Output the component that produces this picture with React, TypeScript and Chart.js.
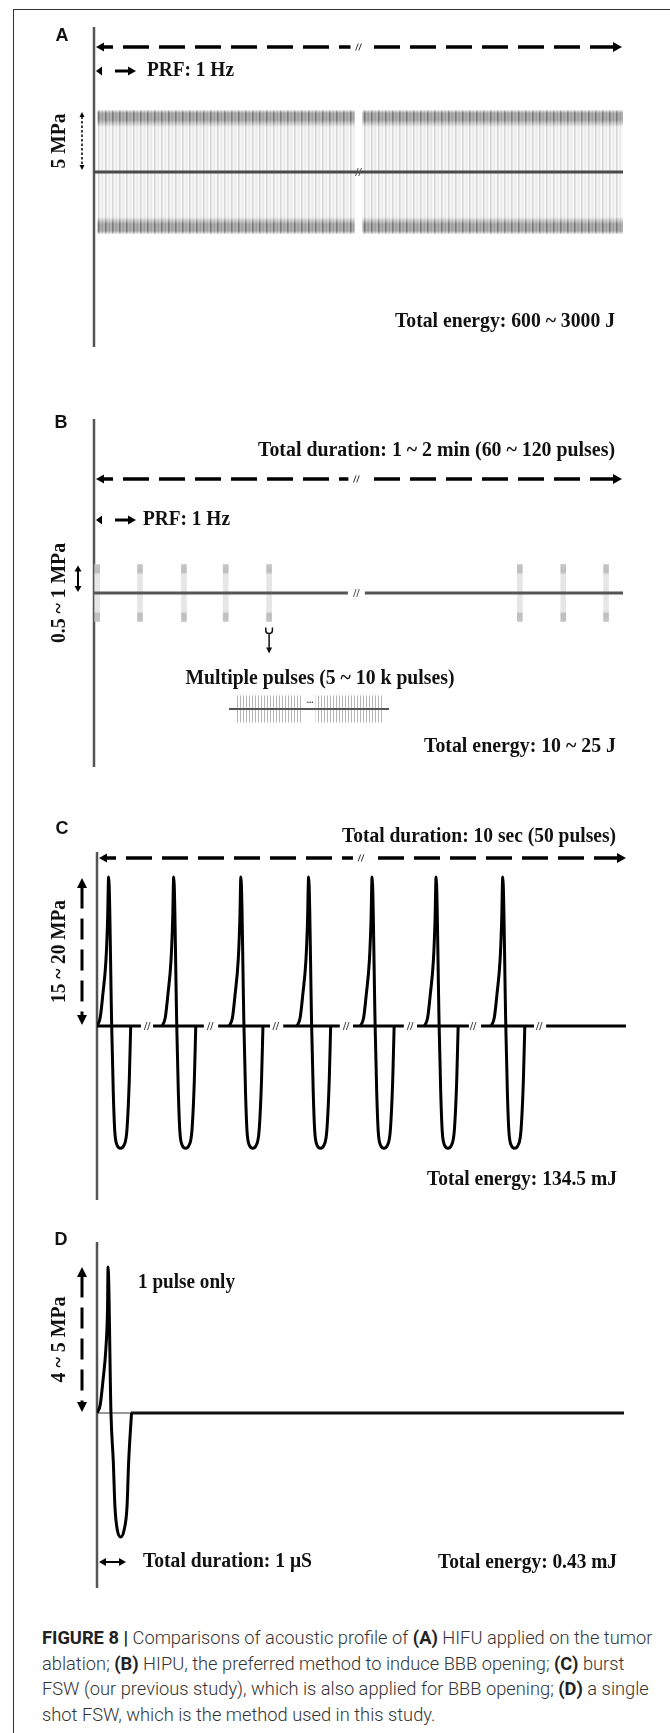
import React, { useEffect, useRef } from "react";
import { Chart, registerables } from "chart.js";

Chart.register(...registerables);

/* ============================ DATA ============================ */
// Time runs 0 … 100 schematic units along each panel, pressure in MPa.

// (A) HIFU – continuous 5 MPa wave, shown in two spans either side of the time break
const A_WAVE_SPANS = [[0.6, 49.3], [50.7, 100]];
const A_WAVE_AMPLITUDE = 5;
const A_BASELINE_SPANS = [[0, 100]];
const A_TIME_BREAKS = [50];

// (B) HIPU – bursts at 1 Hz, 0.5 ~ 1 MPa
const B_PULSE_TIMES = [0.6, 8.7, 17.0, 24.9, 33.1, 80.5, 88.7, 96.8];
const B_PULSE_AMPLITUDE = 1;
const B_BASELINE_SPANS = [[0, 48], [51.2, 100]];
const B_TIME_BREAKS = [49.6];
const B_MARKED_PULSE = 4;
// inset: one burst = multiple pulses
const B_INSET_SPANS = [[0.04, 0.46], [0.54, 0.96]];
const B_INSET_BASELINE = [[0, 1]];
const B_INSET_AMPLITUDE = 1;

// (C) burst FSW – 7 drawn pulses, peak 20 MPa
const C_PULSE_STARTS = [0, 12.3, 25.0, 37.8, 49.8, 61.9, 74.5];
const C_SHAPE_T = [0, 0.6, 1.1, 1.7, 2.0, 2.2, 2.78, 3.08, 3.35, 3.8, 4.44, 5.1, 5.65, 6.1, 6.37];
const C_SHAPE_P = [0, 1.1, 4.2, 8.9, 14.2, 20, 0, -9.0, -14.0, -16.0, -16.4, -16.0, -14.0, -7.3, 0];
const C_BASELINE_SPANS = [[0, 8.3], [10.6, 20.2], [22.9, 32.7], [35.2, 45.9], [48.4, 58.0], [60.5, 70.3], [72.6, 82.6], [84.9, 100]];
const C_BASELINE_BREAKS = [9.5, 21.4, 33.8, 47.1, 59.2, 71.1, 83.6];
const C_TIME_BREAKS = [49.9];
const C_PEAK = 20;

// (D) single-shot FSW, peak 5 MPa
const D_SHAPE_T = [0, 0.6, 1.1, 1.7, 2.0, 2.1, 2.65, 3.1, 3.4, 3.85, 4.5, 5.15, 5.7, 6.0, 6.55];
const D_SHAPE_P = [0, 0.27, 1.05, 2.25, 3.6, 5.0, 0, -1.7, -3.2, -4.0, -4.25, -4.0, -3.2, -1.7, 0];
const D_PULSE_STARTS = [0];
const D_BASELINE_UNDER = [[0, 6.6]];
const D_BASELINE_SPANS = [[6.4, 100]];
const D_PEAK = 5;

// Texts
const PANEL_LETTERS = ["A", "B", "C", "D"];
const TXT_PRF = "PRF: 1 Hz";
const A_AMP_LABEL = "5 MPa";
const A_ENERGY = "Total energy: 600 ~ 3000 J";
const B_DURATION = "Total duration: 1 ~ 2 min (60 ~ 120 pulses)";
const B_AMP_LABEL = "0.5 ~ 1 MPa";
const B_INSET_TITLE = "Multiple pulses (5 ~ 10 k pulses)";
const B_ENERGY = "Total energy: 10 ~ 25 J";
const C_DURATION = "Total duration: 10 sec (50 pulses)";
const C_AMP_LABEL = "15 ~ 20 MPa";
const C_ENERGY = "Total energy: 134.5 mJ";
const D_NOTE = "1 pulse only";
const D_AMP_LABEL = "4 ~ 5 MPa";
const D_DURATION = "Total duration: 1 μS";
const D_ENERGY = "Total energy: 0.43 mJ";

const CAPTION_LINES: [string, boolean][][] = [
  [["FIGURE 8 |", true], [" Comparisons of acoustic profile of ", false], ["(A)", true], [" HIFU applied on the tumor", false]],
  [["ablation; ", false], ["(B)", true], [" HIPU, the preferred method to induce BBB opening; ", false], ["(C)", true], [" burst", false]],
  [["FSW (our previous study), which is also applied for BBB opening; ", false], ["(D)", true], [" a single", false]],
  [["shot FSW, which is the method used in this study.", false]],
];

/* ============================ LAYOUT (page pixels) ============================ */
const SERIF = "'Liberation Serif', 'Times New Roman', serif";
const SANS = "'Liberation Sans', Arial, sans-serif";
const F_TXT = `bold 20px ${SERIF}`;
const F_LET = `bold 18px ${SANS}`;

const BOX: any = {
  A: { left: 0, top: 0, width: 670, height: 392 },
  B: { left: 0, top: 392, width: 670, height: 413 },
  Bi: { left: 222, top: 688, width: 175, height: 42 },
  C: { left: 0, top: 805, width: 670, height: 410 },
  D: { left: 0, top: 1215, width: 670, height: 400 },
};
const AREA: any = {
  A: { left: 94, right: 623, top: 27, bottom: 347, baseline: 172, unitPx: 12.4, xMin: 0, xMax: 100 },
  B: { left: 94, right: 623, top: 419, bottom: 767, baseline: 593, unitPx: 28.5, xMin: 0, xMax: 100 },
  Bi: { left: 229, right: 389, top: 694, bottom: 724, baseline: 709, unitPx: 13.6, xMin: 0, xMax: 1 },
  C: { left: 97, right: 626, top: 852, bottom: 1200, baseline: 1026, unitPx: 7.45, xMin: 0, xMax: 100 },
  D: { left: 97, right: 624, top: 1242, bottom: 1588, baseline: 1413, unitPx: 29.2, xMin: 0, xMax: 100 },
};

/* ============================ helpers ============================ */
function spanPoints(spans: number[][], y = 0) {
  const pts: any[] = [];
  spans.forEach(([a, b], i) => {
    if (i > 0) pts.push({ x: (spans[i - 1][1] + a) / 2, y: null });
    pts.push({ x: a, y }, { x: b, y });
  });
  return pts;
}
function pulsePoints(starts: number[], T: number[], P: number[]) {
  const pts: any[] = [];
  starts.forEach((s, i) => {
    if (i > 0) pts.push({ x: s - 0.3, y: null });
    T.forEach((t, j) => pts.push({ x: s + t, y: P[j] }));
  });
  return pts;
}
const lineDS = (data: any[], color: string, width: number, extra: any = {}) => ({
  type: "line", data, borderColor: color, borderWidth: width, pointRadius: 0, fill: false,
  tension: 0, spanGaps: false, borderCapStyle: "butt", borderJoinStyle: "round", ...extra,
});
function bandDatasets(spans: number[][], amp: number, bg: any) {
  return spans.flatMap(([a, b]) => [
    { type: "line", data: [{ x: a, y: amp }, { x: b, y: amp }], borderColor: "rgba(0,0,0,0)", borderWidth: 1, pointRadius: 0, fill: "+1", backgroundColor: bg },
    { type: "line", data: [{ x: a, y: -amp }, { x: b, y: -amp }], borderColor: "rgba(0,0,0,0)", borderWidth: 1, pointRadius: 0, fill: false },
  ]);
}

function baseOptions(box: any, area: any) {
  const yMax = (area.baseline - area.top) / area.unitPx;
  const yMin = -(area.bottom - area.baseline) / area.unitPx;
  return {
    responsive: false, maintainAspectRatio: false, animation: false, events: [],
    layout: { padding: { left: area.left - box.left, right: box.left + box.width - area.right, top: area.top - box.top, bottom: box.top + box.height - area.bottom } },
    plugins: { legend: { display: false }, tooltip: { enabled: false }, title: { display: false } },
    scales: {
      x: { type: "linear", min: area.xMin, max: area.xMax, display: false, offset: false },
      y: { type: "linear", min: yMin, max: yMax, display: false },
    },
  };
}

function mapper(chart: any, box: any) {
  return {
    x: (v: number) => chart.scales.x.getPixelForValue(v) + box.left,
    y: (v: number) => chart.scales.y.getPixelForValue(v) + box.top,
    top: chart.chartArea.top + box.top,
    bottom: chart.chartArea.bottom + box.top,
  };
}
function annot(box: any, after: (ctx: any, m: any) => void, under?: (ctx: any, m: any) => void) {
  const run = (chart: any, fn?: any) => {
    if (!fn) return;
    const ctx = chart.ctx;
    ctx.save();
    ctx.translate(-box.left, -box.top);
    fn(ctx, mapper(chart, box));
    ctx.restore();
  };
  return {
    id: "annot",
    beforeDatasetsDraw(chart: any) { run(chart, under); },
    afterDatasetsDraw(chart: any) { run(chart, after); },
  };
}

function head(ctx: any, x: number, y: number, dir: string, len: number, half: number, color = "#000") {
  ctx.fillStyle = color;
  ctx.beginPath();
  if (dir === "right") { ctx.moveTo(x, y); ctx.lineTo(x - len, y - half); ctx.lineTo(x - len, y + half); }
  else if (dir === "left") { ctx.moveTo(x, y); ctx.lineTo(x + len, y - half); ctx.lineTo(x + len, y + half); }
  else if (dir === "up") { ctx.moveTo(x, y); ctx.lineTo(x - half, y + len); ctx.lineTo(x + half, y + len); }
  else { ctx.moveTo(x, y); ctx.lineTo(x - half, y - len); ctx.lineTo(x + half, y - len); }
  ctx.closePath();
  ctx.fill();
}
function seg(ctx: any, x1: number, y1: number, x2: number, y2: number, w: number, color: string, dash: number[] = [], off = 0) {
  ctx.save();
  ctx.strokeStyle = color; ctx.lineWidth = w; ctx.lineCap = "butt";
  ctx.setLineDash(dash); ctx.lineDashOffset = off;
  ctx.beginPath(); ctx.moveTo(x1, y1); ctx.lineTo(x2, y2); ctx.stroke();
  ctx.restore();
}
function breakMark(ctx: any, x: number, y: number, h = 7, color = "#444", w = 1) {
  ctx.save();
  ctx.strokeStyle = color; ctx.lineWidth = w;
  [-1.6, 1.6].forEach((dx) => {
    ctx.beginPath(); ctx.moveTo(x + dx - 1.3, y + h / 2); ctx.lineTo(x + dx + 1.3, y - h / 2); ctx.stroke();
  });
  ctx.restore();
}
function dashedArrow(ctx: any, x1: number, x2: number, y: number, bx: number) {
  head(ctx, x1, y, "left", 8, 4.5);
  head(ctx, x2, y, "right", 9, 5);
  seg(ctx, x1 + 6, y, bx - 8, y, 3.5, "#000", [26, 10], 15);
  seg(ctx, x2 - 6, y, bx + 10, y, 3.5, "#000", [26, 10], 0);
  breakMark(ctx, bx, y, 7, "#333", 1);
}
function prfArrow(ctx: any, x0: number, y: number) {
  head(ctx, x0, y, "left", 6, 4.5);
  seg(ctx, x0 + 19, y, x0 + 33, y, 3, "#000");
  head(ctx, x0 + 40, y, "right", 8, 4.5);
}
function vArrow(ctx: any, x: number, y1: number, y2: number, w: number, dash: number[], len: number, half: number) {
  head(ctx, x, y1, "up", len, half);
  head(ctx, x, y2, "down", len, half);
  seg(ctx, x, y1 + len - 0.5, x, y2 - len + 0.5, w, "#000", dash);
}
function fitText(ctx: any, s: string, x: number, y: number, w: number, align: string, font = F_TXT, color = "#111") {
  ctx.save();
  ctx.font = font;
  const mw = ctx.measureText(s).width;
  const k = w / mw;
  const x0 = align === "left" ? x : align === "right" ? x - w : x - w / 2;
  ctx.translate(x0, y);
  ctx.scale(k, 1);
  ctx.fillStyle = color; ctx.textAlign = "left"; ctx.textBaseline = "middle";
  ctx.fillText(s, 0, 0);
  ctx.restore();
}
function rotText(ctx: any, s: string, cx: number, cy: number, w: number) {
  ctx.save();
  ctx.translate(cx, cy);
  ctx.rotate(-Math.PI / 2);
  fitText(ctx, s, 0, 0, w, "center");
  ctx.restore();
}
function letter(ctx: any, s: string, x: number, y: number) {
  ctx.save();
  ctx.font = F_LET; ctx.fillStyle = "#111"; ctx.textAlign = "center"; ctx.textBaseline = "middle";
  ctx.fillText(s, x, y);
  ctx.restore();
}
function axisLine(ctx: any, m: any) {
  seg(ctx, m.x(0), m.top, m.x(0), m.bottom, 2.5, "#555");
}

/* ----- patterns ----- */
function hifuPattern(c: any) {
  const chart = c.chart;
  if (!chart.chartArea) return "rgba(200,200,200,0.6)";
  const ys = chart.scales.y;
  const top = ys.getPixelForValue(A_WAVE_AMPLITUDE), bot = ys.getPixelForValue(-A_WAVE_AMPLITUDE);
  const h = bot - top;
  const pc = document.createElement("canvas");
  pc.width = 7; pc.height = chart.height;
  const g: any = pc.getContext("2d");
  const mk = (edge: string, mid: string) => {
    const gr = g.createLinearGradient(0, top, 0, bot);
    const f = (p: number) => p / h;
    gr.addColorStop(0, mid); gr.addColorStop(f(3), edge); gr.addColorStop(f(10), edge);
    gr.addColorStop(f(17), mid); gr.addColorStop(1 - f(17), mid);
    gr.addColorStop(1 - f(10), edge); gr.addColorStop(1 - f(3), edge); gr.addColorStop(1, mid);
    return gr;
  };
  g.fillStyle = mk("rgb(175,175,175)", "rgb(247,247,247)"); g.fillRect(0, 0, 7, pc.height);
  g.fillStyle = mk("rgb(120,120,120)", "rgb(214,214,214)"); g.fillRect(0, 0, 1.6, pc.height);
  g.fillStyle = mk("rgb(150,150,150)", "rgb(230,230,230)"); g.fillRect(3.6, 0, 1.2, pc.height);
  return chart.ctx.createPattern(pc, "repeat");
}
function insetPattern(c: any) {
  const chart = c.chart;
  const pc = document.createElement("canvas");
  pc.width = 3; pc.height = 4;
  const g: any = pc.getContext("2d");
  g.fillStyle = "rgba(150,150,150,0.7)"; g.fillRect(0, 0, 1, 4);
  return chart.ctx.createPattern(pc, "repeat");
}
function hipuGradient(c: any) {
  const chart = c.chart;
  if (!chart.chartArea) return "#e3e3e3";
  const ys = chart.scales.y;
  const t = ys.getPixelForValue(B_PULSE_AMPLITUDE), b = ys.getPixelForValue(-B_PULSE_AMPLITUDE);
  const gr = chart.ctx.createLinearGradient(0, t, 0, b);
  gr.addColorStop(0, "#c6c6c6"); gr.addColorStop(0.13, "#bdbdbd"); gr.addColorStop(0.18, "#e6e6e6");
  gr.addColorStop(0.82, "#e6e6e6"); gr.addColorStop(0.87, "#bdbdbd"); gr.addColorStop(1, "#c6c6c6");
  return gr;
}

/* ============================ chart configs ============================ */
function configA() {
  const box = BOX.A, area = AREA.A;
  return {
    type: "line",
    data: { datasets: [lineDS(spanPoints(A_BASELINE_SPANS), "#4a4a4a", 3), ...bandDatasets(A_WAVE_SPANS, A_WAVE_AMPLITUDE, hifuPattern)] },
    options: baseOptions(box, area),
    plugins: [annot(box, (ctx, m) => {
      letter(ctx, PANEL_LETTERS[0], 62, 36);
      dashedArrow(ctx, m.x(area.xMin) + 2, m.x(area.xMax) - 1, 47, m.x(A_TIME_BREAKS[0]));
      prfArrow(ctx, m.x(0) + 2, 71);
      fitText(ctx, TXT_PRF, 147, 71, 87, "left");
      const y1 = m.y(A_WAVE_AMPLITUDE) + 2, y2 = m.y(0) - 2;
      vArrow(ctx, 82, y1, y2, 1.5, [2.5, 2], 5, 2.5);
      rotText(ctx, A_AMP_LABEL, 60, (y1 + y2) / 2, 55);
      A_TIME_BREAKS.forEach((b) => breakMark(ctx, m.x(b), m.y(0), 8, "#555", 1));
      fitText(ctx, A_ENERGY, 615, 322, 220, "right");
    }, axisLine)],
  };
}
function configB() {
  const box = BOX.B, area = AREA.B;
  return {
    type: "line",
    data: {
      datasets: [
        lineDS(spanPoints(B_BASELINE_SPANS), "#555", 3),
        { type: "bar", data: B_PULSE_TIMES.map((t) => ({ x: t, y: [-B_PULSE_AMPLITUDE, B_PULSE_AMPLITUDE] })), barThickness: 5, borderWidth: 0, backgroundColor: hipuGradient },
      ],
    },
    options: baseOptions(box, area),
    plugins: [annot(box, (ctx, m) => {
      letter(ctx, PANEL_LETTERS[1], 61, 423);
      fitText(ctx, B_DURATION, 615, 451, 357, "right");
      dashedArrow(ctx, m.x(area.xMin) + 2, m.x(area.xMax) - 1, 479, m.x(B_TIME_BREAKS[0]));
      prfArrow(ctx, m.x(0) + 2, 520);
      fitText(ctx, TXT_PRF, 143, 520, 87, "left");
      const y1 = m.y(B_PULSE_AMPLITUDE) + 1, y2 = m.y(0) - 1;
      vArrow(ctx, 78, y1, y2, 2, [], 6, 3.5);
      rotText(ctx, B_AMP_LABEL, 60, m.y(0), 100);
      B_TIME_BREAKS.forEach((b) => breakMark(ctx, m.x(b), m.y(0), 8, "#555", 1));
      // fork arrow below the marked burst
      const fx = m.x(B_PULSE_TIMES[B_MARKED_PULSE]);
      const fy = m.y(-B_PULSE_AMPLITUDE) + 6;
      ctx.save();
      ctx.strokeStyle = "#111"; ctx.lineWidth = 1.5;
      ctx.beginPath();
      ctx.moveTo(fx - 3.3, fy); ctx.lineTo(fx - 3.3, fy + 3);
      ctx.quadraticCurveTo(fx - 3.3, fy + 6, fx, fy + 6);
      ctx.quadraticCurveTo(fx + 3.3, fy + 6, fx + 3.3, fy + 3);
      ctx.lineTo(fx + 3.3, fy);
      ctx.moveTo(fx, fy + 6); ctx.lineTo(fx, fy + 21);
      ctx.stroke();
      ctx.restore();
      head(ctx, fx, fy + 26, "down", 6, 3, "#111");
      fitText(ctx, B_INSET_TITLE, 320, 679, 269, "center");
      ctx.save();
      ctx.font = `bold 9px ${SERIF}`; ctx.fillStyle = "#333"; ctx.textAlign = "center"; ctx.textBaseline = "middle";
      ctx.fillText("...", 310, 701);
      ctx.restore();
      fitText(ctx, B_ENERGY, 616, 747, 192, "right");
    }, axisLine)],
  };
}
function configBi() {
  const box = BOX.Bi, area = AREA.Bi;
  return {
    type: "line",
    data: { datasets: [lineDS(spanPoints(B_INSET_BASELINE), "#555", 2), ...bandDatasets(B_INSET_SPANS, B_INSET_AMPLITUDE, insetPattern)] },
    options: baseOptions(box, area),
    plugins: [],
  };
}
function configC() {
  const box = BOX.C, area = AREA.C;
  return {
    type: "line",
    data: {
      datasets: [
        lineDS(pulsePoints(C_PULSE_STARTS, C_SHAPE_T, C_SHAPE_P), "#000", 3, { cubicInterpolationMode: "monotone" }),
        lineDS(spanPoints(C_BASELINE_SPANS), "#000", 3),
      ],
    },
    options: baseOptions(box, area),
    plugins: [annot(box, (ctx, m) => {
      letter(ctx, PANEL_LETTERS[2], 62, 829);
      fitText(ctx, C_DURATION, 616, 837, 274, "right");
      dashedArrow(ctx, m.x(area.xMin) + 2, m.x(area.xMax), 858, m.x(C_TIME_BREAKS[0]));
      const y1 = m.y(C_PEAK) + 1, y2 = m.y(0) - 1;
      vArrow(ctx, 82, y1, y2, 3, [21, 10], 10, 5);
      rotText(ctx, C_AMP_LABEL, 60, (y1 + y2) / 2, 103);
      C_BASELINE_BREAKS.forEach((b) => breakMark(ctx, m.x(b), m.y(0), 8, "#444", 1));
      fitText(ctx, C_ENERGY, 617, 1180, 190, "right");
    }, axisLine)],
  };
}
function configD() {
  const box = BOX.D, area = AREA.D;
  return {
    type: "line",
    data: {
      datasets: [
        lineDS(pulsePoints(D_PULSE_STARTS, D_SHAPE_T, D_SHAPE_P), "#000", 3, { cubicInterpolationMode: "monotone" }),
        lineDS(spanPoints(D_BASELINE_SPANS), "#111", 3),
        lineDS(spanPoints(D_BASELINE_UNDER), "#777", 1.5),
      ],
    },
    options: baseOptions(box, area),
    plugins: [annot(box, (ctx, m) => {
      letter(ctx, PANEL_LETTERS[3], 61, 1240);
      const y1 = m.y(D_PEAK), y2 = m.y(0) - 1;
      vArrow(ctx, 82, y1, y2, 3, [21, 10], 10, 5);
      rotText(ctx, D_AMP_LABEL, 60, (y1 + y2) / 2, 86);
      fitText(ctx, D_NOTE, 138, 1283, 97, "left");
      const ax = m.x(0) + 2;
      head(ctx, ax, 1562, "left", 7, 4);
      head(ctx, ax + 27, 1562, "right", 7, 4);
      seg(ctx, ax + 6, 1562, ax + 21, 1562, 2, "#000");
      fitText(ctx, D_DURATION, 143, 1562, 169, "left");
      fitText(ctx, D_ENERGY, 617, 1563, 179, "right");
    }, axisLine)],
  };
}

/* ============================ components ============================ */
function ChartBox({ box, make, z = 1 }: { box: any; make: () => any; z?: number }) {
  const ref = useRef<HTMLCanvasElement>(null);
  useEffect(() => {
    const chart = new Chart(ref.current as any, make());
    return () => chart.destroy();
  }, []);
  return (
    <div style={{ position: "absolute", left: box.left, top: box.top, width: box.width, height: box.height, zIndex: z }}>
      <canvas ref={ref} width={box.width} height={box.height} style={{ width: box.width, height: box.height, display: "block" }} />
    </div>
  );
}

export default function App() {
  return (
    <div style={{ position: "absolute", left: 0, top: 0, width: 670, height: 1733, background: "#fff", overflow: "hidden" }}>
      <div style={{ position: "absolute", left: 13, top: 9, width: 670, height: 1740, borderLeft: "1px solid #333", borderTop: "1px solid #333" }} />
      <ChartBox box={BOX.A} make={configA} />
      <ChartBox box={BOX.B} make={configB} />
      <ChartBox box={BOX.Bi} make={configBi} z={2} />
      <ChartBox box={BOX.C} make={configC} />
      <ChartBox box={BOX.D} make={configD} />
      <div style={{ position: "absolute", left: 42, top: 1625, whiteSpace: "nowrap", fontFamily: "Roboto, 'Liberation Sans', Arial, sans-serif", fontWeight: 300, fontSize: 18.3, lineHeight: "25.5px", color: "#333" }}>
        {CAPTION_LINES.map((line, i) => (
          <div key={i}>
            {line.map(([t, b], j) => (
              <span key={j} style={b ? { fontWeight: 700, color: "#222" } : undefined}>{t}</span>
            ))}
          </div>
        ))}
      </div>
    </div>
  );
}
